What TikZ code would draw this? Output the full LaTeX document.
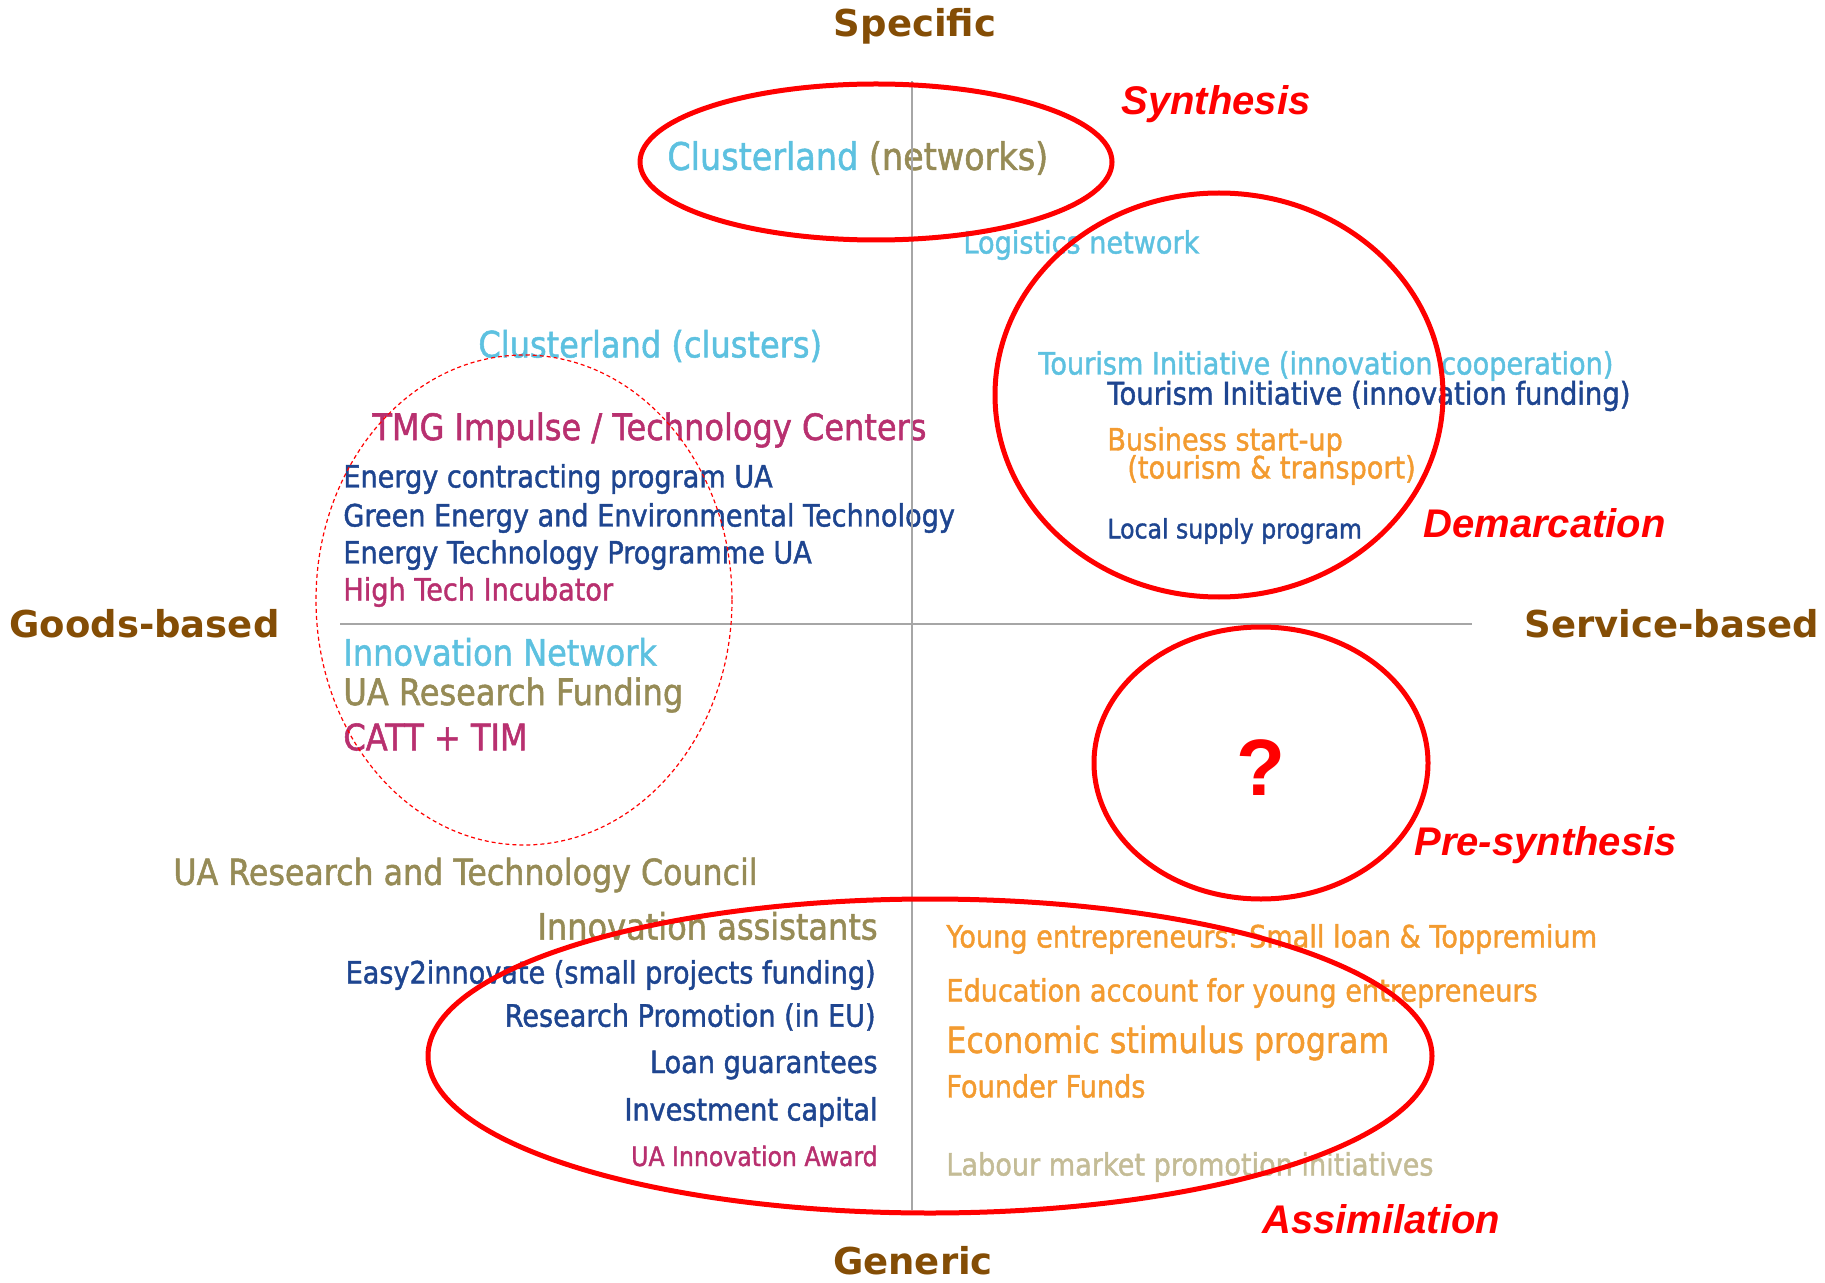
\documentclass[tikz,border=0pt]{standalone}
\usepackage{fontspec}
\usetikzlibrary{positioning}
\newfontfamily\tahfont[FakeStretch=0.88,FakeBold=1.4]{DejaVu Sans}
\newfontfamily\verdfont{DejaVu Sans}
\newfontfamily\arifont{Liberation Sans}
\definecolor{cyanish}{RGB}{93,193,224}
\definecolor{olive}{RGB}{150,139,86}
\definecolor{plum}{RGB}{184,48,111}
\definecolor{navy}{RGB}{30,69,144}
\definecolor{amber}{RGB}{243,155,48}
\definecolor{khaki}{RGB}{196,188,150}
\definecolor{axisbrown}{RGB}{132,77,5}
\definecolor{axisgrey}{RGB}{166,166,166}
\tikzset{%
  lbl/.style = {inner sep=0pt,
        font=\tahfont\fontsize{15.4}{18}\selectfont},
  lblbig/.style = {inner sep=0pt,
        font=\tahfont\fontsize{18.2}{21}\selectfont},
  lblsmall/.style = {inner sep=0pt,
        font=\tahfont\fontsize{13.4}{16}\selectfont},
  axislbl/.style = {inner sep=0pt,text=axisbrown,
        font=\verdfont\bfseries\fontsize{18.5}{22}\selectfont},
  phase/.style = {inner sep=0pt,text=red,anchor=west,
        font=\arifont\bfseries\itshape\fontsize{20}{24}\selectfont},
  zone/.style = {draw=red,line width=2.5pt},
  cluster/.style = {draw=red,line width=0.6pt,dash pattern=on 2pt off 1.5pt}
}
\begin{document}
\begin{tikzpicture}[x=0.5pt,y=-0.5pt]
   \useasboundingbox (0,0) rectangle (1825,1283);

   % axis labels
   \node[axislbl] (specific) at (915,26) {Specific};
   \node[axislbl] (generic) at (913,1261) {Generic};
   \node[axislbl,anchor=west] (goods) at (9,624) {Goods-based};
   \node[axislbl,anchor=east] (service) at (1819,624) {Service-based};

   % upper left
   \node[lbl,anchor=west,font=\tahfont\fontsize{19}{22}\selectfont] (clnet) at (667,158)
      {\textcolor{cyanish}{Clusterland }\textcolor{olive}{(networks)}};
   \node[lbl,anchor=west,text=cyanish] (logist) at (963,245) {Logistics network};
   \node[lblbig,anchor=west,text=cyanish] (clclu) at (478,346) {Clusterland (clusters)};
   \node[lblbig,anchor=west,text=plum] (tmg) at (372,430) {TMG Impulse / Technology Centers};
   \node[lbl,anchor=west,text=navy] (encontr) at (343,479) {Energy contracting program UA};
   \node[lbl,anchor=west,text=navy] (green) at (343,518) {Green Energy and Environmental Technology};
   \node[lbl,anchor=west,text=navy] (entech) at (343,555) {Energy Technology Programme UA};
   \node[lbl,anchor=west,text=plum] (hightech) at (343,592) {High Tech Incubator};

   % lower left
   \node[lblbig,anchor=west,text=cyanish] (innonet) at (343,652) {Innovation Network};
   \node[lblbig,anchor=west,text=olive] (uafund) at (343,695) {UA Research Funding};
   \node[lblbig,anchor=west,text=plum] (catt) at (343,737) {CATT + TIM};
   \node[lblbig,anchor=west,text=olive,font=\tahfont\fontsize{18}{21}\selectfont] (uartc) at (173,875) {UA Research and Technology Council};
   \node[lblbig,anchor=east,text=olive] (innoass) at (878,926) {Innovation assistants};
   \node[lbl,anchor=east,text=navy] (easy) at (876,975) {Easy2innovate (small projects funding)};
   \node[lbl,anchor=east,text=navy] (respro) at (876,1017) {Research Promotion (in EU)};
   \node[lbl,anchor=east,text=navy] (loan) at (878,1065) {Loan guarantees};
   \node[lbl,anchor=east,text=navy] (invest) at (878,1112) {Investment capital};
   \node[lblsmall,anchor=east,text=plum] (award) at (878,1156) {UA Innovation Award};

   % upper right
   \node[lbl,anchor=west,text=cyanish] (tourcoop) at (1038,366) {Tourism Initiative (innovation cooperation)};
   \node[lbl,anchor=west,text=navy,font=\tahfont\fontsize{15.6}{18}\selectfont] (tourfund) at (1107,396) {Tourism Initiative (innovation funding)};
   \node[lbl,anchor=west,text=amber] (startup) at (1107,442) {Business start-up};
   \node[lbl,anchor=west,text=amber] (tourtrans) at (1127,470) {(tourism \& transport)};
   \node[lblsmall,anchor=west,text=navy] (local) at (1107,531) {Local supply program};

   % lower right
   \node[lbl,anchor=west,text=amber] (young) at (946,939) {Young entrepreneurs: Small loan \& Toppremium};
   \node[lbl,anchor=west,text=amber] (educ) at (946,993) {Education account for young entrepreneurs};
   \node[lblbig,anchor=west,text=amber,font=\tahfont\fontsize{18}{21}\selectfont] (stimul) at (946,1043) {Economic stimulus program};
   \node[lbl,anchor=west,text=amber] (founder) at (946,1086) {Founder Funds};
   \node[lbl,anchor=west,text=khaki] (labour) at (946,1167) {Labour market promotion initiatives};

   % axes
   \coordinate (top) at (912,81);
   \coordinate (bottom) at (912,1210);
   \coordinate (left) at (340,624);
   \coordinate (right) at (1472,624);
   \draw[axisgrey,line width=1pt] (top) -- (bottom);
   \draw[axisgrey,line width=1pt] (left) -- (right);

   % zones
   \draw[cluster] (524,600) ellipse [x radius=208,y radius=245];
   \draw[zone] (876,162) ellipse [x radius=236,y radius=78];
   \draw[zone] (1219,395) ellipse [x radius=224,y radius=202];
   \draw[zone] (1261,763) ellipse [x radius=167,y radius=136];
   \draw[zone] (930,1056) ellipse [x radius=502,y radius=157];

   \node[phase] (synth) at (1121,104) {Synthesis};
   \node[phase] (demarc) at (1423,523) {Demarcation};
   \node[phase] (presyn) at (1414,845) {Pre-synthesis};
   \node[phase] (assim) at (1262,1219) {Assimilation};
   \node[inner sep=0pt,text=red,font=\arifont\bfseries\fontsize{40}{44}\selectfont] (quest) at (1261,768) {?};
\end{tikzpicture}
\end{document}
